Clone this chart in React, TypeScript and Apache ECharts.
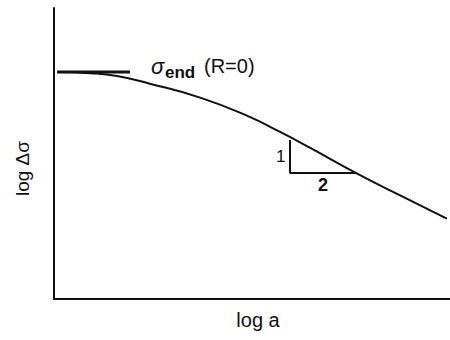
import React, { useEffect, useRef } from "react";
import * as echarts from "echarts";

// curve: log a (x) vs log Δσ (y), arbitrary units 0..100
const logA = [0.8, 9.1, 15.9, 24.2, 36.9, 48.7, 57.1, 64.6, 76.8, 87.4, 99.2];
const logSigma = [78.0, 77.6, 76.6, 74.0, 69.2, 63.0, 57.4, 52.0, 42.9, 35.6, 27.6];

// horizontal asymptote sigma_end (R=0)
const tangentX = [0.8, 19.2];
const tangentY = [78.0, 78.0];

// slope triangle (1:2)
const triX = [59.6, 59.6, 76.5];
const triY = [54.6, 43.3, 43.3];

const xTitle = "log a";
const yTitle = "log Δσ";

export default function App() {
  const ref = useRef<HTMLDivElement>(null);
  useEffect(() => {
    if (!ref.current) return;
    const chart = echarts.init(ref.current, null, { renderer: "svg" });
    const font = "Liberation Sans";
    chart.setOption({
      animation: false,
      backgroundColor: "#fff",
      grid: { left: 54, right: 0, top: 8, bottom: 41 },
      xAxis: {
        type: "value",
        min: 0,
        max: 100,
        name: xTitle,
        nameLocation: "middle",
        nameGap: 11,
        nameTextStyle: { fontFamily: font, fontSize: 20, color: "#111", padding: [0, 0, 0, 12] },
        axisLine: { show: true, lineStyle: { color: "#111", width: 2 } },
        axisTick: { show: false },
        axisLabel: { show: false },
        splitLine: { show: false },
      },
      yAxis: {
        type: "value",
        min: 0,
        max: 100,
        name: yTitle,
        nameLocation: "middle",
        nameGap: 22,
        nameRotate: 90,
        nameTextStyle: { fontFamily: font, fontSize: 19, color: "#111", padding: [0, 30, 0, 0] },
        axisLine: { show: true, lineStyle: { color: "#111", width: 2 } },
        axisTick: { show: false },
        axisLabel: { show: false },
        splitLine: { show: false },
      },
      series: [
        {
          type: "line",
          data: logA.map((x, i) => [x, logSigma[i]]),
          smooth: 0.5,
          showSymbol: false,
          lineStyle: { color: "#111", width: 2 },
        },
        {
          type: "line",
          data: tangentX.map((x, i) => [x, tangentY[i]]),
          showSymbol: false,
          lineStyle: { color: "#111", width: 3 },
        },
        {
          type: "line",
          data: triX.map((x, i) => [x, triY[i]]),
          showSymbol: false,
          lineStyle: { color: "#111", width: 2 },
        },
      ],
      graphic: [
        {
          type: "text",
          left: 151,
          top: 55,
          style: { text: "σ", fontFamily: font, fontSize: 22, fontStyle: "italic", fill: "#111" },
        },
        {
          type: "text",
          left: 165,
          top: 64,
          style: { text: "end", fontFamily: font, fontSize: 17, fontWeight: "bold", fill: "#111" },
        },
        {
          type: "text",
          left: 204,
          top: 56,
          style: { text: "(R=0)", fontFamily: font, fontSize: 20, fill: "#111" },
        },
        {
          type: "text",
          left: 276,
          top: 148,
          style: { text: "1", fontFamily: font, fontSize: 17, fill: "#111" },
        },
        {
          type: "text",
          left: 318,
          top: 176,
          style: { text: "2", fontFamily: font, fontSize: 18, fontWeight: "bold", fill: "#111" },
        },
      ],
    });
    return () => chart.dispose();
  }, []);
  return (
    <div
      ref={ref}
      style={{ position: "absolute", left: 0, top: 0, width: 450, height: 340 }}
    />
  );
}
